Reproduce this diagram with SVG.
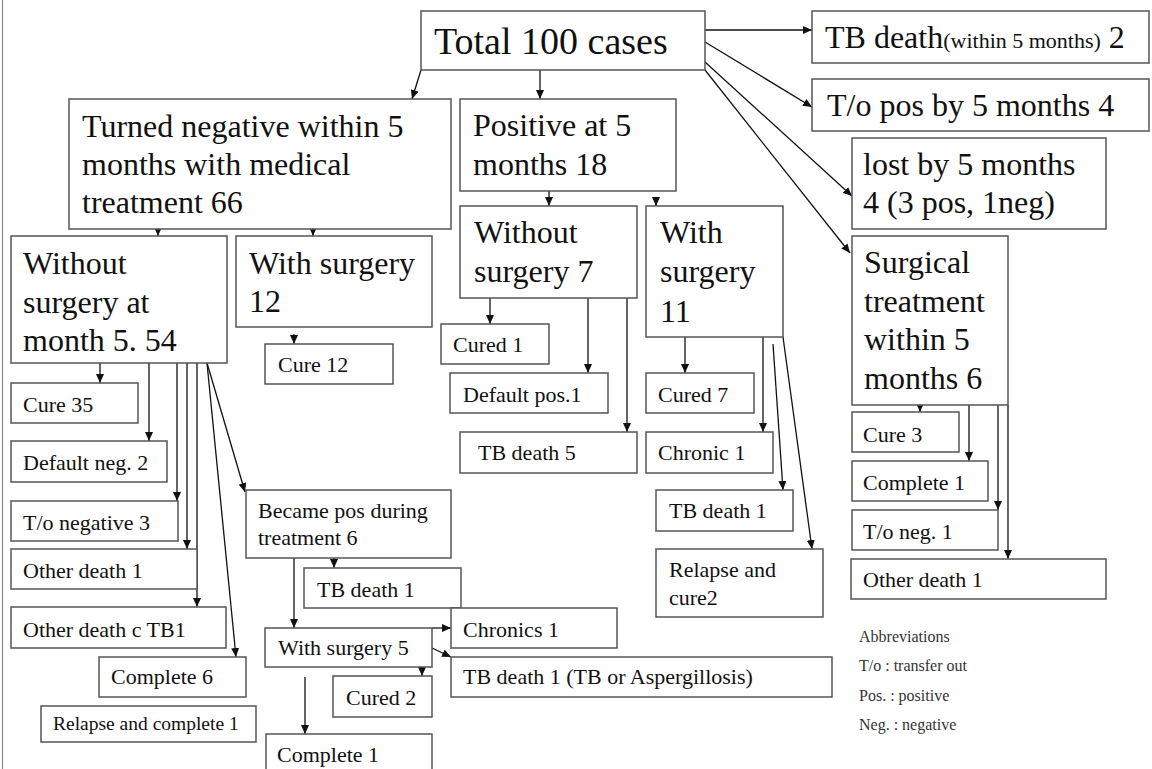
<svg xmlns="http://www.w3.org/2000/svg" width="1152" height="769" viewBox="0 0 1152 769">
  <style>
    .box { fill: #ffffff; stroke: #555555; stroke-width: 1.5; }
    .t { font-family: "Liberation Serif", "Times New Roman", serif; fill: #111111; }
    .xl { font-size: 38px; }
    .lg { font-size: 32px; }
    .sm { font-size: 22px; }
    .xs { font-size: 19.5px; }
    .note { font-family: "Liberation Serif", "Times New Roman", serif; font-size: 16px; fill: #333333; }
    .edge { fill: none; stroke: #111111; stroke-width: 1.3; marker-end: url(#arrow); }
    .frame { stroke: #888888; stroke-width: 1.2; }
  </style>
  <defs>
    <marker id="arrow" markerUnits="userSpaceOnUse" markerWidth="9" markerHeight="8" refX="9" refY="4" orient="auto">
      <path d="M0,0 L9,4 L0,8 Z" fill="#111111"/>
    </marker>
  </defs>

  <rect width="1152" height="769" fill="#ffffff"/>
  <line class="frame" x1="2.5" y1="0" x2="2.5" y2="769"/>

  <!-- connectors -->
  <g id="connectors">
    <path class="edge" d="M421,70 L412,99"/>
    <path class="edge" d="M540,70 L540,99"/>
    <path class="edge" d="M705,30 L812,30"/>
    <path class="edge" d="M705,42 L812,107"/>
    <path class="edge" d="M705,62 L852,196"/>
    <path class="edge" d="M705,70 L850,253"/>

    <path class="edge" d="M158,229 L158,236"/>
    <path class="edge" d="M313,229 L313,236"/>

    <path class="edge" d="M549,191 L549,206"/>
    <path class="edge" d="M656,197 L656,206"/>

    <path class="edge" d="M100,363 L100,383"/>
    <path class="edge" d="M149,363 L149,441"/>
    <path class="edge" d="M177,363 L177,501"/>
    <path class="edge" d="M187,363 L187,549"/>
    <path class="edge" d="M197,363 L197,607"/>
    <path class="edge" d="M207,363 L245,492"/>
    <path class="edge" d="M207,363 L236,657"/>

    <path class="edge" d="M294,334 L294,344"/>

    <path class="edge" d="M490,298 L490,324"/>
    <path class="edge" d="M588,298 L588,373"/>
    <path class="edge" d="M627,298 L627,432"/>

    <path class="edge" d="M685,337 L685,373"/>
    <path class="edge" d="M763,337 L763,432"/>
    <path class="edge" d="M773,344 L783,490"/>
    <path class="edge" d="M783,337 L812,549"/>

    <path class="edge" d="M334,558 L334,568"/>
    <path class="edge" d="M294,558 L294,628"/>

    <path class="edge" d="M432,628 L451,628"/>
    <path class="edge" d="M432,648 L451,657"/>
    <path class="edge" d="M422,657 L422,676"/>
    <path class="edge" d="M305,677 L305,734"/>

    <path class="edge" d="M920,403 L920,412"/>
    <path class="edge" d="M969,405 L969,461"/>
    <path class="edge" d="M998,405 L998,510"/>
    <path class="edge" d="M1008,405 L1008,559"/>
  </g>

  <!-- top level -->
  <g id="total">
    <rect class="box" x="421" y="11" width="284" height="59"/>
    <text class="t xl" x="434" y="54">Total 100 cases</text>
  </g>
  <g id="tb-death-early">
    <rect class="box" x="812" y="11" width="337" height="52"/>
    <text class="t lg" x="825" y="48">TB death<tspan font-size="22">(within 5 months)</tspan> 2</text>
  </g>
  <g id="to-pos">
    <rect class="box" x="812" y="79" width="337" height="52"/>
    <text class="t lg" x="827" y="116">T/o pos by 5 months 4</text>
  </g>
  <g id="lost">
    <rect class="box" x="852" y="138" width="254" height="91"/>
    <text class="t lg" x="863" y="175">lost by 5 months<tspan x="863" y="213">4 (3 pos, 1neg)</tspan></text>
  </g>

  <!-- medical treatment branch -->
  <g id="turned-negative">
    <rect class="box" x="69" y="99" width="382" height="130"/>
    <text class="t lg" x="82" y="137">Turned negative within 5<tspan x="82" y="175">months with medical</tspan><tspan x="82" y="213">treatment 66</tspan></text>
  </g>
  <g id="without-surgery-54">
    <rect class="box" x="11" y="236" width="216" height="127"/>
    <text class="t lg" x="23" y="274">Without<tspan x="23" y="313">surgery at</tspan><tspan x="23" y="351">month 5. 54</tspan></text>
  </g>
  <g id="with-surgery-12">
    <rect class="box" x="236" y="236" width="196" height="91"/>
    <text class="t lg" x="249" y="274">With surgery<tspan x="249" y="312">12</tspan></text>
  </g>
  <g id="cure-12">
    <rect class="box" x="265" y="344" width="128" height="40"/>
    <text class="t sm" x="278" y="372">Cure 12</text>
  </g>
  <g id="cure-35">
    <rect class="box" x="11" y="383" width="127" height="40"/>
    <text class="t sm" x="23" y="412">Cure 35</text>
  </g>
  <g id="default-neg">
    <rect class="box" x="11" y="441" width="156" height="41"/>
    <text class="t sm" x="23" y="470">Default neg. 2</text>
  </g>
  <g id="to-negative">
    <rect class="box" x="11" y="501" width="167" height="40"/>
    <text class="t sm" x="23" y="530">T/o negative 3</text>
  </g>
  <g id="other-death-left">
    <rect class="box" x="11" y="549" width="186" height="40"/>
    <text class="t sm" x="23" y="578">Other death 1</text>
  </g>
  <g id="other-death-tb">
    <rect class="box" x="11" y="607" width="215" height="41"/>
    <text class="t sm" x="23" y="637">Other death c TB1</text>
  </g>
  <g id="complete-6">
    <rect class="box" x="99" y="657" width="147" height="40"/>
    <text class="t sm" x="111" y="684">Complete 6</text>
  </g>
  <g id="relapse-complete">
    <rect class="box" x="41" y="706" width="215" height="36"/>
    <text class="t xs" x="53" y="730">Relapse and complete 1</text>
  </g>
  <g id="became-pos">
    <rect class="box" x="246" y="490" width="205" height="68"/>
    <text class="t sm" x="258" y="518">Became pos during<tspan x="258" y="545">treatment 6</tspan></text>
  </g>
  <g id="tb-death-mid">
    <rect class="box" x="304" y="568" width="157" height="40"/>
    <text class="t sm" x="317" y="597">TB death 1</text>
  </g>
  <g id="with-surgery-5">
    <rect class="box" x="265" y="628" width="167" height="39"/>
    <text class="t sm" x="278" y="655">With surgery 5</text>
  </g>
  <g id="chronics">
    <rect class="box" x="451" y="608" width="166" height="40"/>
    <text class="t sm" x="463" y="637">Chronics 1</text>
  </g>
  <g id="tb-death-asp">
    <rect class="box" x="451" y="657" width="381" height="40"/>
    <text class="t sm" x="463" y="684">TB death 1 (TB or Aspergillosis)</text>
  </g>
  <g id="cured-2">
    <rect class="box" x="333" y="676" width="99" height="41"/>
    <text class="t sm" x="346" y="705">Cured 2</text>
  </g>
  <g id="complete-1-bottom">
    <rect class="box" x="266" y="734" width="166" height="40"/>
    <text class="t sm" x="277" y="762">Complete 1</text>
  </g>

  <!-- positive at 5 months branch -->
  <g id="positive-18">
    <rect class="box" x="460" y="99" width="216" height="92"/>
    <text class="t lg" x="473" y="136">Positive at 5<tspan x="473" y="175">months 18</tspan></text>
  </g>
  <g id="without-surgery-7">
    <rect class="box" x="460" y="206" width="177" height="92"/>
    <text class="t lg" x="474" y="243">Without<tspan x="474" y="282">surgery 7</tspan></text>
  </g>
  <g id="cured-1">
    <rect class="box" x="441" y="324" width="108" height="40"/>
    <text class="t sm" x="453" y="352">Cured 1</text>
  </g>
  <g id="default-pos">
    <rect class="box" x="450" y="373" width="158" height="40"/>
    <text class="t sm" x="463" y="402">Default pos.1</text>
  </g>
  <g id="tb-death-5">
    <rect class="box" x="460" y="432" width="177" height="41"/>
    <text class="t sm" x="478" y="460">TB death 5</text>
  </g>
  <g id="with-surgery-11">
    <rect class="box" x="646" y="206" width="137" height="131"/>
    <text class="t lg" x="660" y="243">With<tspan x="660" y="282">surgery</tspan><tspan x="660" y="322">11</tspan></text>
  </g>
  <g id="cured-7">
    <rect class="box" x="646" y="373" width="108" height="40"/>
    <text class="t sm" x="658" y="402">Cured 7</text>
  </g>
  <g id="chronic-1">
    <rect class="box" x="646" y="432" width="127" height="41"/>
    <text class="t sm" x="658" y="460">Chronic 1</text>
  </g>
  <g id="tb-death-right">
    <rect class="box" x="656" y="490" width="137" height="41"/>
    <text class="t sm" x="669" y="518">TB death 1</text>
  </g>
  <g id="relapse-cure">
    <rect class="box" x="656" y="549" width="167" height="68"/>
    <text class="t sm" x="669" y="577">Relapse and<tspan x="669" y="605">cure2</tspan></text>
  </g>

  <!-- surgical treatment branch -->
  <g id="surgical-6">
    <rect class="box" x="852" y="236" width="156" height="169"/>
    <text class="t lg" x="864" y="273">Surgical<tspan x="864" y="312">treatment</tspan><tspan x="864" y="350">within 5</tspan><tspan x="864" y="389">months 6</tspan></text>
  </g>
  <g id="cure-3">
    <rect class="box" x="852" y="412" width="107" height="40"/>
    <text class="t sm" x="863" y="442">Cure 3</text>
  </g>
  <g id="complete-1-right">
    <rect class="box" x="852" y="461" width="136" height="40"/>
    <text class="t sm" x="863" y="490">Complete 1</text>
  </g>
  <g id="to-neg">
    <rect class="box" x="852" y="510" width="146" height="40"/>
    <text class="t sm" x="863" y="539">T/o neg. 1</text>
  </g>
  <g id="other-death-right">
    <rect class="box" x="851" y="559" width="255" height="40"/>
    <text class="t sm" x="863" y="587">Other death 1</text>
  </g>

  <g id="abbreviations">
    <text class="note" x="859" y="642">Abbreviations</text>
    <text class="note" x="859" y="671">T/o : transfer out</text>
    <text class="note" x="859" y="701">Pos. : positive</text>
    <text class="note" x="859" y="730">Neg. : negative</text>
  </g>
</svg>
